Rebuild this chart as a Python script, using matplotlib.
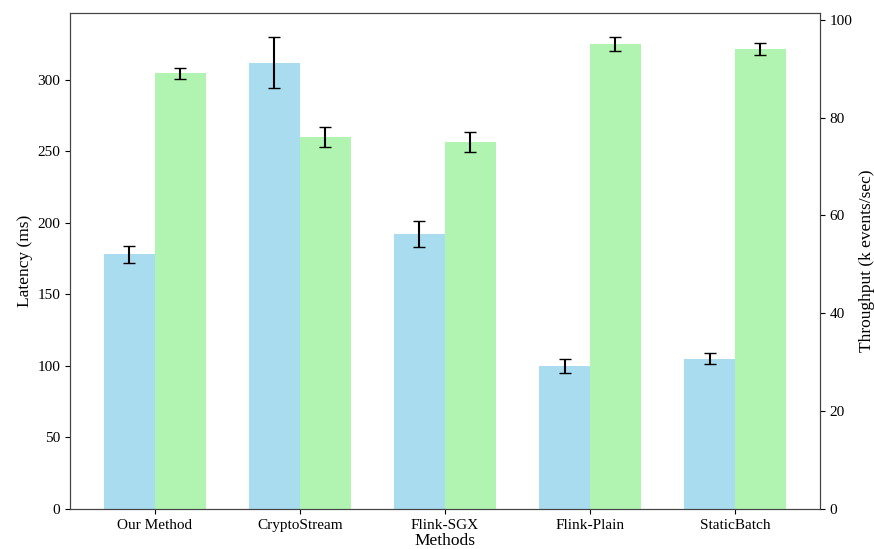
import numpy as np
import matplotlib
matplotlib.use('Agg')
import matplotlib.pyplot as plt

plt.rcParams['font.family'] = ['Liberation Serif', 'DejaVu Serif']
plt.rcParams['font.size'] = 11
plt.rcParams['axes.labelsize'] = 12.5

methods = ['Our Method', 'CryptoStream', 'Flink-SGX', 'Flink-Plain', 'StaticBatch']
latency = [178, 312, 192, 100, 105]
latency_err = [6, 18, 9, 5, 4]
throughput = [89, 76, 75, 95, 94]
throughput_err = [1.2, 2, 2, 1.5, 1.2]

x = np.arange(len(methods))
width = 0.35

fig, ax1 = plt.subplots(figsize=(8.74, 5.49), dpi=100)
ax1.bar(x - width / 2, latency, width, yerr=latency_err, capsize=4.5,
        color='skyblue', alpha=0.7, label='Latency (ms)')
ax1.set_xlabel('Methods', labelpad=1)
ax1.set_ylabel('Latency (ms)', labelpad=3)
ax1.set_xticks(x)
ax1.set_xticklabels(methods)

ax2 = ax1.twinx()
ax2.bar(x + width / 2, throughput, width, yerr=throughput_err, capsize=4.5,
        color='lightgreen', alpha=0.7, label='Throughput (k events/sec)')
ax2.set_ylabel('Throughput (k events/sec)', labelpad=5)

for ax in (ax1, ax2):
    for s in ax.spines.values():
        s.set_color('#444444')

plt.subplots_adjust(left=0.08, right=0.938, bottom=0.073, top=0.976)
plt.savefig('out.png')
